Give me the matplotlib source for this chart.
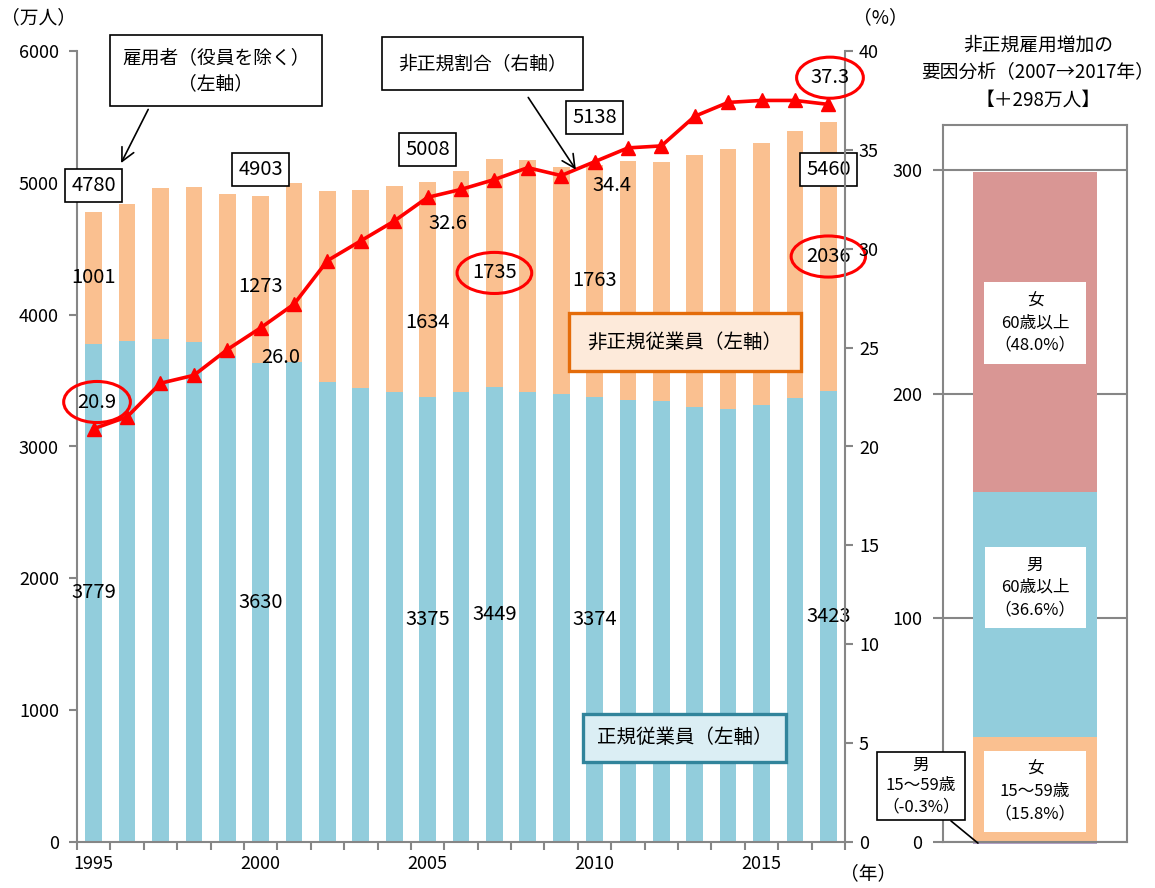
import numpy as np
import matplotlib.pyplot as plt

plt.rcParams['font.family'] = ['Noto Sans CJK JP', 'DejaVu Sans']

# 雇用者の推移（万人）と非正規割合（%）
years = list(range(1995, 2018))
regular = [3779, 3800, 3812, 3794, 3688, 3630, 3640, 3489, 3444, 3410, 3375, 3415,
           3449, 3410, 3395, 3374, 3352, 3345, 3302, 3288, 3317, 3367, 3423]
non_regular = [1001, 1043, 1152, 1173, 1225, 1273, 1360, 1451, 1504, 1564, 1634, 1678,
               1735, 1765, 1727, 1763, 1812, 1816, 1910, 1967, 1986, 2023, 2036]
employees = [4780, 4843, 4963, 4967, 4913, 4903, 4999, 4940, 4948, 4975, 5008, 5092,
             5185, 5175, 5124, 5138, 5163, 5161, 5213, 5256, 5304, 5391, 5460]
ratio = [20.9, 21.5, 23.2, 23.6, 24.9, 26.0, 27.2, 29.4, 30.4, 31.4, 32.6, 33.0,
         33.5, 34.1, 33.7, 34.4, 35.1, 35.2, 36.7, 37.4, 37.5, 37.5, 37.3]
year_ticks = [1995, 2000, 2005, 2010, 2015]

# 非正規雇用増加の要因分析（2007→2017年）
factor_labels = ['男\n15～59歳\n（-0.3%）', '女\n15～59歳\n（15.8%）',
                 '男\n60歳以上\n（36.6%）', '女\n60歳以上\n（48.0%）']
factor_share = [-0.3, 15.8, 36.6, 48.0]
factor_total = 298

BLUE = '#92CDDC'
ORANGE = '#FAC090'
PINK = '#D99694'
LAVENDER = '#B3A2C7'
GRAY = '#868686'

W, H = 1155, 888
fig = plt.figure(figsize=(W / 100, H / 100), dpi=100)


def px(x, y):
    """pixel position -> figure fraction"""
    return x / W, 1 - y / H


# ---------------- main chart ----------------
ax = fig.add_axes([77 / W, 46 / H, 768 / W, 791 / H])
ax.bar(years, regular, 0.5, color=BLUE, zorder=2)
ax.bar(years, non_regular, 0.5, bottom=regular, color=ORANGE, zorder=2)
ax.set_xlim(1994.5, 2017.5)
ax.set_ylim(0, 6000)
ax.set_yticks(range(0, 6001, 1000))
ax.set_xticks(np.arange(1994.5, 2018, 1))
ax.set_xticklabels([])
ax.set_xticks(year_ticks, minor=True)
ax.set_xticklabels([str(y) for y in year_ticks], minor=True)
ax.tick_params(axis='x', which='major', length=6, width=1.5, color=GRAY, direction='out')
ax.tick_params(axis='x', which='minor', length=0, pad=9, labelsize=13)
ax.tick_params(axis='y', length=6, width=1.5, color=GRAY, labelsize=13, pad=7)
ax.spines['top'].set_visible(False)
ax.spines['right'].set_visible(False)
for s in ['left', 'bottom']:
    ax.spines[s].set_color(GRAY)
    ax.spines[s].set_linewidth(1.5)

ax2 = ax.twinx()
ax2.plot(years, ratio, color='red', lw=2.6, marker='^', ms=10, zorder=3)
ax2.set_ylim(0, 40)
ax2.set_yticks(range(0, 41, 5))
ax2.tick_params(axis='y', length=6, width=1.5, color=GRAY, labelsize=13, pad=4)
for s in ['top', 'left', 'bottom']:
    ax2.spines[s].set_visible(False)
ax2.spines['right'].set_color(GRAY)
ax2.spines['right'].set_linewidth(1.5)

box_black = dict(boxstyle='square,pad=0.3', fc='white', ec='black', lw=1.2)
circle_red = dict(boxstyle='ellipse,pad=0.2', fc='none', ec='red', lw=2.2)

# 雇用者総数（枠付き）
total_offsets = {1995: 197, 2000: 196, 2005: 242, 2010: 359, 2017: -361}
for yr, off in total_offsets.items():
    i = years.index(yr)
    ax.text(yr, employees[i] + off, str(employees[i]), ha='center', va='center',
            fontsize=14.5, bbox=box_black, zorder=5)

# 非正規従業員数
nonreg_offsets = {1995: 0, 2000: -50, 2005: -250, 2007: 0, 2010: 0, 2017: 0}
circled_nonreg = [2007, 2017]
for yr, off in nonreg_offsets.items():
    i = years.index(yr)
    y = regular[i] + non_regular[i] / 2 + off
    ax.text(yr, y, str(non_regular[i]), ha='center', va='center', fontsize=14.5,
            bbox=circle_red if yr in circled_nonreg else None, zorder=5)

# 正規従業員数
for yr in [1995, 2000, 2005, 2007, 2010, 2017]:
    i = years.index(yr)
    ax.text(yr, regular[i] / 2, str(regular[i]), ha='center', va='center',
            fontsize=14.5, zorder=5)

# 非正規割合
ratio_offsets = {1995: (0.1, 1.35), 2000: (0.6, -1.5), 2005: (0.6, -1.3),
                 2010: (0.52, -1.2), 2017: (0.05, 1.35)}
circled_ratio = [1995, 2017]
for yr, (dx, dy) in ratio_offsets.items():
    i = years.index(yr)
    ax2.text(yr + dx, ratio[i] + dy, f'{ratio[i]:.1f}', ha='center', va='center',
             fontsize=14.5, bbox=circle_red if yr in circled_ratio else None, zorder=6)

# 凡例代わりの吹き出し
ax.annotate('雇用者（役員を除く）\n（左軸）', xy=(1995.82, 5150), xytext=(1998.66, 5850),
            textcoords='data', ha='center', va='center', fontsize=13.5, linespacing=1.3,
            bbox=dict(boxstyle='square,pad=0.65', fc='white', ec='black', lw=1.2),
            arrowprops=dict(arrowstyle='->,head_length=0.7,head_width=0.35', color='black',
                            lw=1.2, relpos=(0.18, 0), shrinkA=2, shrinkB=0),
            annotation_clip=False, zorder=6)
ax2.annotate('非正規割合（右軸）', xy=(2009.44, 34.0), xytext=(2006.64, 39.37),
             textcoords='data', ha='center', va='center', fontsize=13.5,
             bbox=dict(boxstyle='square,pad=0.85', fc='white', ec='black', lw=1.2),
             arrowprops=dict(arrowstyle='->,head_length=0.7,head_width=0.35', color='black',
                             lw=1.2, relpos=(0.68, 0), shrinkA=6, shrinkB=0),
             annotation_clip=False, zorder=6)
ax.text(2012.7, 3794, '非正規従業員（左軸）', ha='center', va='center', fontsize=14,
        bbox=dict(boxstyle='square,pad=0.95', fc='#FDEADA', ec='#E46C0A', lw=2.4), zorder=5)
ax.text(2012.7, 789, '正規従業員（左軸）', ha='center', va='center', fontsize=14,
        bbox=dict(boxstyle='square,pad=0.7', fc='#DBEEF4', ec='#31849B', lw=2.4), zorder=5)

fig.text(*px(38, 18), '（万人）', ha='center', va='center', fontsize=13.5)
fig.text(*px(880, 18), '（%）', ha='center', va='center', fontsize=13.5)
fig.text(*px(868, 874), '（年）', ha='center', va='center', fontsize=13.5)

# ---------------- factor panel ----------------
ax3 = fig.add_axes([943 / W, 46 / H, 184 / W, 717 / H])
values = [s / 100 * factor_total for s in factor_share]
colors = [LAVENDER, ORANGE, BLUE, PINK]
pos_bottom = 0
centers = []
for v, c in zip(values, colors):
    if v < 0:
        ax3.bar(0, v, 0.674, color=c, clip_on=False, zorder=2)
        centers.append(v / 2)
    else:
        ax3.bar(0, v, 0.674, bottom=pos_bottom, color=c, zorder=2)
        centers.append(pos_bottom + v / 2)
        pos_bottom += v
ax3.set_xlim(-0.5, 0.5)
ax3.set_ylim(0, 320)
ax3.set_yticks([0, 100, 200, 300])
ax3.set_xticks([])
ax3.grid(axis='y', color=GRAY, lw=1.5, zorder=0)
ax3.set_axisbelow(True)
ax3.tick_params(axis='y', length=7, width=1.5, color=GRAY, labelsize=13, pad=8)
for s in ax3.spines.values():
    s.set_color(GRAY)
    s.set_linewidth(1.5)

white_box = dict(boxstyle='square,pad=0.6', fc='white', ec='none')
label_shift = [0, -1, 12, 4]
for k in range(1, 4):
    ax3.text(0, centers[k] + label_shift[k], factor_labels[k], ha='center', va='center',
             fontsize=12, linespacing=1.4, bbox=white_box, zorder=5)
ax3.annotate(factor_labels[0], xy=(-0.31, -0.5), xytext=(-0.62, 25), textcoords='data',
             ha='center', va='center', fontsize=12, linespacing=1.3,
             bbox=dict(boxstyle='square,pad=0.3', fc='white', ec='black', lw=1.2),
             arrowprops=dict(arrowstyle='-', color='black', lw=1.2, relpos=(0.8, 0),
                             shrinkA=0, shrinkB=0),
             annotation_clip=False, zorder=6)

fig.text(*px(1038, 73), '非正規雇用増加の\n要因分析（2007→2017年）\n【＋298万人】',
         ha='center', va='center', fontsize=13.5, linespacing=1.4)

fig.savefig('out.png', dpi=100)
